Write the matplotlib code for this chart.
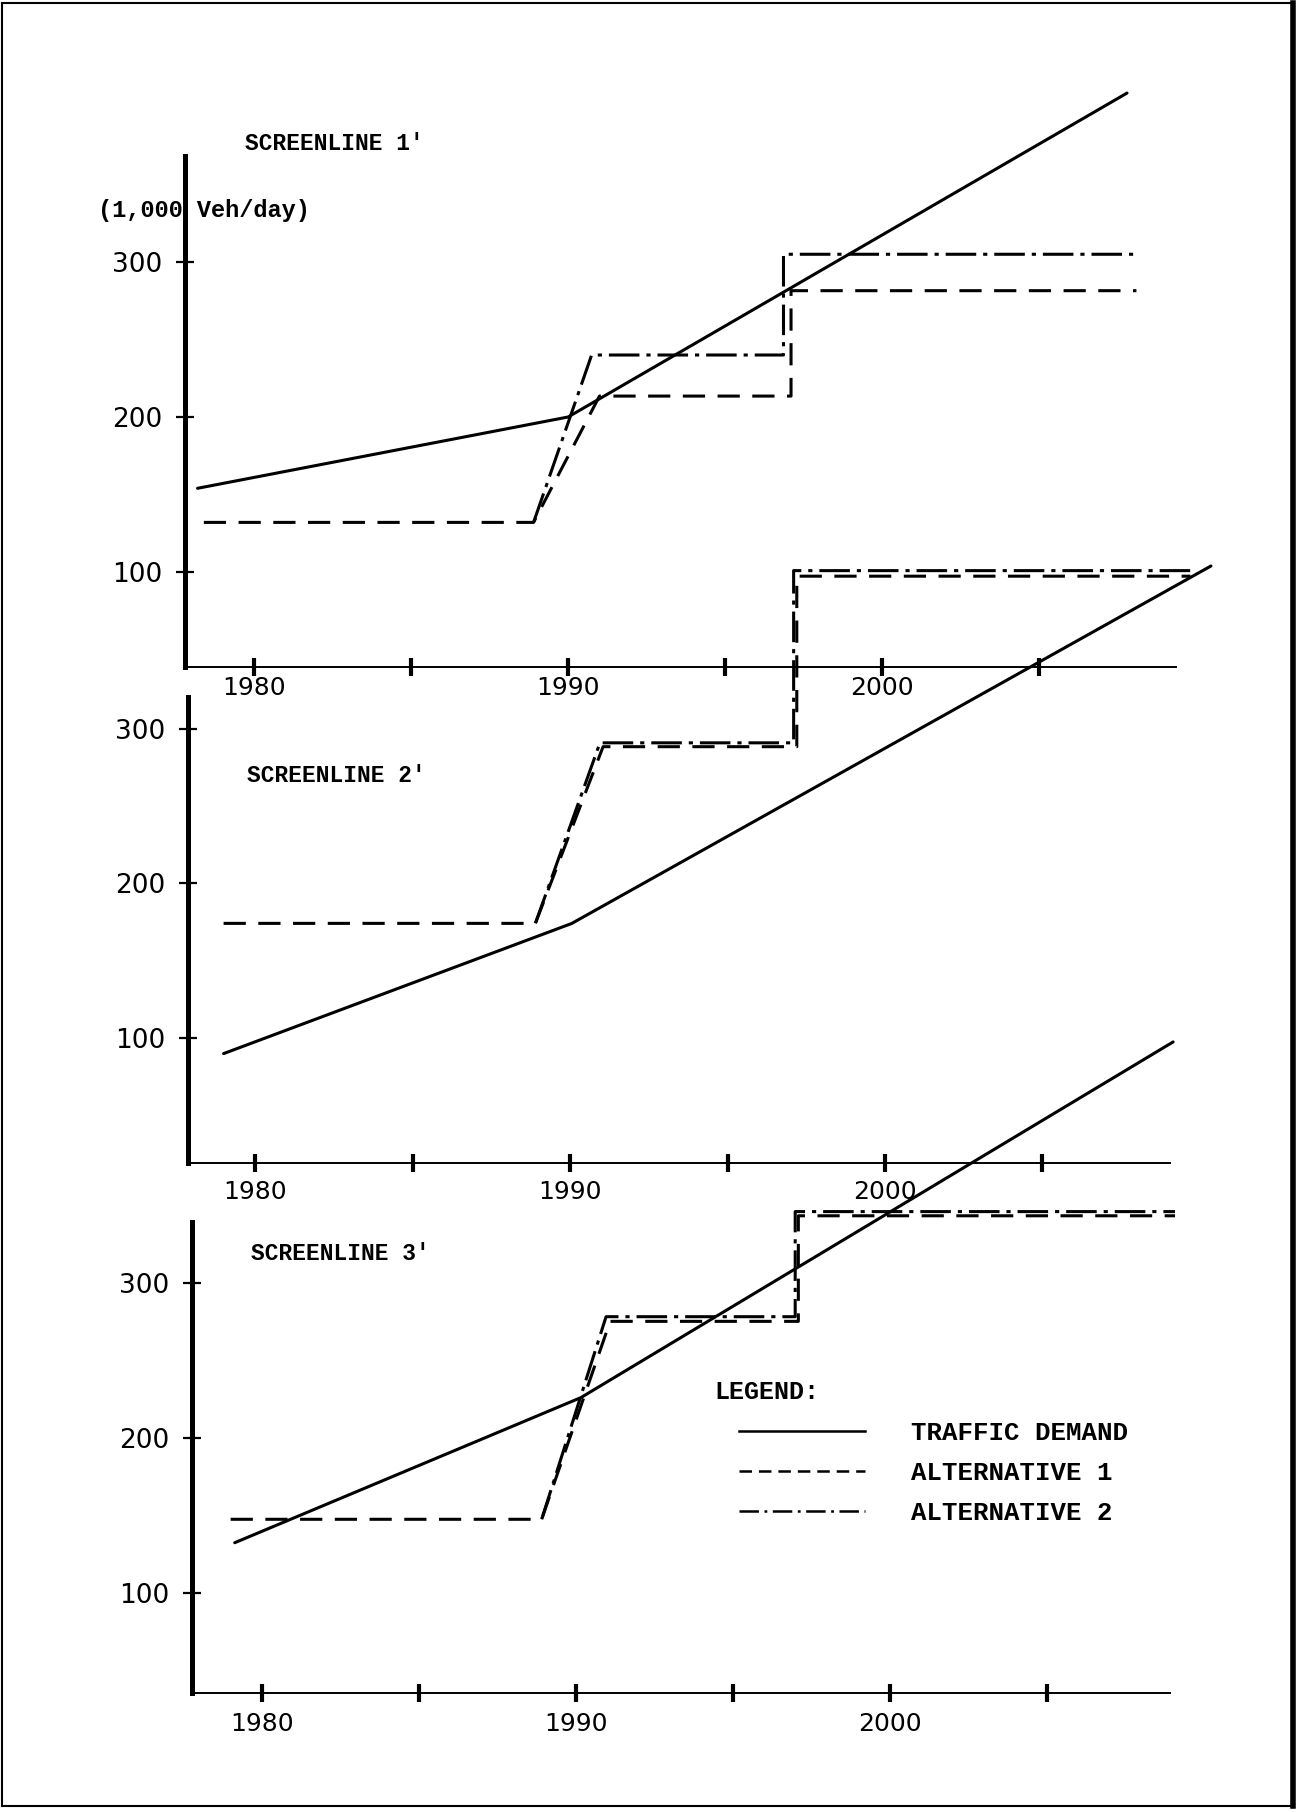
import matplotlib
matplotlib.use('Agg')
import matplotlib.pyplot as plt
from matplotlib.lines import Line2D

W, H = 1301, 1812
plt.rcParams['lines.scale_dashes'] = False
plt.rcParams['font.family'] = ['DejaVu Sans']

# ---------------- data ----------------
year_ticks = [1980, 1985, 1990, 1995, 2000, 2005]
year_labels = ['1980', '', '1990', '', '2000', '']
value_ticks = [100, 200, 300]
value_labels = ['100', '200', '300']

titles = ["SCREENLINE 1'", "SCREENLINE 2'", "SCREENLINE 3'"]
unit_label = "(1,000 Veh/day)"
legend_title = "LEGEND:"
series_names = ["TRAFFIC DEMAND", "ALTERNATIVE 1", "ALTERNATIVE 2"]

# Screenline 1
s1_demand_x = [1978.2, 1990.0, 2007.8]
s1_demand_y = [154, 200, 409]
s1_alt1_x = [1978.4, 1988.9, 1991.0, 1997.1, 1997.1, 2008.1]
s1_alt1_y = [132, 132, 213.5, 213.5, 281.5, 281.5]
s1_alt2_x = [1988.9, 1990.75, 1996.86, 1996.86, 2008.1]
s1_alt2_y = [132, 240, 240, 305, 305]

# Screenline 2
s2_demand_x = [1979.0, 1990.05, 2010.35]
s2_demand_y = [89.6, 173.9, 405.6]
s2_alt1_x = [1979.0, 1988.9, 1991.05, 1997.2, 1997.2, 2009.7]
s2_alt1_y = [174, 174, 288.5, 288.5, 399, 399]
s2_alt2_x = [1988.9, 1990.95, 1997.1, 1997.1, 2009.7]
s2_alt2_y = [174, 291, 291, 402.6, 402.6]

# Screenline 3
s3_demand_x = [1979.13, 1990.15, 2009.0]
s3_demand_y = [132.4, 225.9, 455]
s3_alt1_x = [1979.0, 1988.9, 1991.08, 1997.07, 1997.07, 2009.06]
s3_alt1_y = [147.5, 147.5, 275, 275, 343, 343]
s3_alt2_x = [1988.9, 1990.95, 1996.97, 1996.97, 2009.06]
s3_alt2_y = [147.5, 278, 278, 345.7, 345.7]

panels = [
    (s1_demand_x, s1_demand_y, s1_alt1_x, s1_alt1_y, s1_alt2_x, s1_alt2_y),
    (s2_demand_x, s2_demand_y, s2_alt1_x, s2_alt1_y, s2_alt2_x, s2_alt2_y),
    (s3_demand_x, s3_demand_y, s3_alt1_x, s3_alt1_y, s3_alt2_x, s3_alt2_y),
]

# ---------------- layout (pixels) ----------------
# (left, right, top, bottom, xlim, ylim, xlabel pad)
layout = [
    (185, 1176, 156, 667, (1977.80, 2009.36), (38.7, 368.4), 0),
    (188, 1170, 697, 1163, (1977.87, 2009.05), (18.7, 320.7), 6),
    (192, 1170, 1222, 1693, (1977.77, 2008.90), (35.6, 339.0), 7),
]
title_pos = [(245, 143), (247, 776), (251, 1254)]

dash_style = (0, (16, 9))
dashdot_style = (0, (22, 5, 3, 5))
lw = 2.2

fig = plt.figure(figsize=(W / 100, H / 100), dpi=100)
fig.patch.set_facecolor('white')

text_font = 'Liberation Mono'
axes = []
for (data, lay) in zip(panels, layout):
    left, right, top, bottom, xl, yl, xpad = lay
    ax = fig.add_axes([left / W, 1 - bottom / H, (right - left) / W, (bottom - top) / H])
    ax.set_facecolor('none')
    ax.set_xlim(*xl)
    ax.set_ylim(*yl)
    for s in ('top', 'right'):
        ax.spines[s].set_visible(False)
    ax.spines['left'].set_linewidth(3.6)
    ax.spines['bottom'].set_linewidth(1.4)
    ax.set_xticks(year_ticks)
    ax.set_xticklabels(year_labels)
    ax.set_yticks(value_ticks)
    ax.set_yticklabels(value_labels)
    ax.tick_params(axis='x', direction='inout', length=13, width=3, pad=xpad,
                   labelsize=18)
    ax.tick_params(axis='y', direction='inout', length=13, width=1.6, pad=10,
                   labelsize=19)
    dx, dy, a1x, a1y, a2x, a2y = data
    ax.plot(dx, dy, color='black', lw=lw, solid_capstyle='round', clip_on=False)
    ax.plot(a1x, a1y, color='black', lw=lw, linestyle=dash_style, clip_on=False)
    ax.plot(a2x, a2y, color='black', lw=lw, linestyle=dashdot_style, clip_on=False)
    axes.append(ax)

for t, (x, y) in zip(titles, title_pos):
    fig.text(x / W, 1 - y / H, t, family=text_font, weight='bold', fontsize=16.5,
             ha='left', va='center')

fig.text(98 / W, 1 - 210 / H, unit_label, family=text_font, weight='bold',
         fontsize=17, ha='left', va='center', zorder=0)

# legend
fig.text(714 / W, 1 - 1392 / H, legend_title, family=text_font, weight='bold',
         fontsize=18, ha='left', va='center')
handles = [
    Line2D([], [], color='black', lw=1.8),
    Line2D([], [], color='black', lw=1.8, linestyle=(0, (9, 5))),
    Line2D([], [], color='black', lw=1.8, linestyle=(0, (14, 4, 2, 4))),
]
leg = fig.legend(handles, series_names, loc='upper left',
                 bbox_to_anchor=(739 / W, 1 - 1421 / H), frameon=False,
                 prop={'family': text_font, 'weight': 'bold', 'size': 18.5},
                 handlelength=4.9, handletextpad=1.8, labelspacing=0.62,
                 borderpad=0, borderaxespad=0)

# page frame
frame = dict(color='black', transform=fig.transFigure, clip_on=False)
fig.add_artist(Line2D([2 / W, 1293 / W], [1 - 3 / H, 1 - 3 / H], lw=1.5, **frame))
fig.add_artist(Line2D([2 / W, 2 / W], [1 - 3 / H, 1 - 1806 / H], lw=1.5, **frame))
fig.add_artist(Line2D([2 / W, 1293 / W], [1 - 1806 / H, 1 - 1806 / H], lw=1.5, **frame))
fig.add_artist(Line2D([1293 / W, 1293 / W], [1 - 3 / H, 1 - 1806 / H], lw=4, **frame))

fig.savefig('out.png', dpi=100, facecolor='white')
